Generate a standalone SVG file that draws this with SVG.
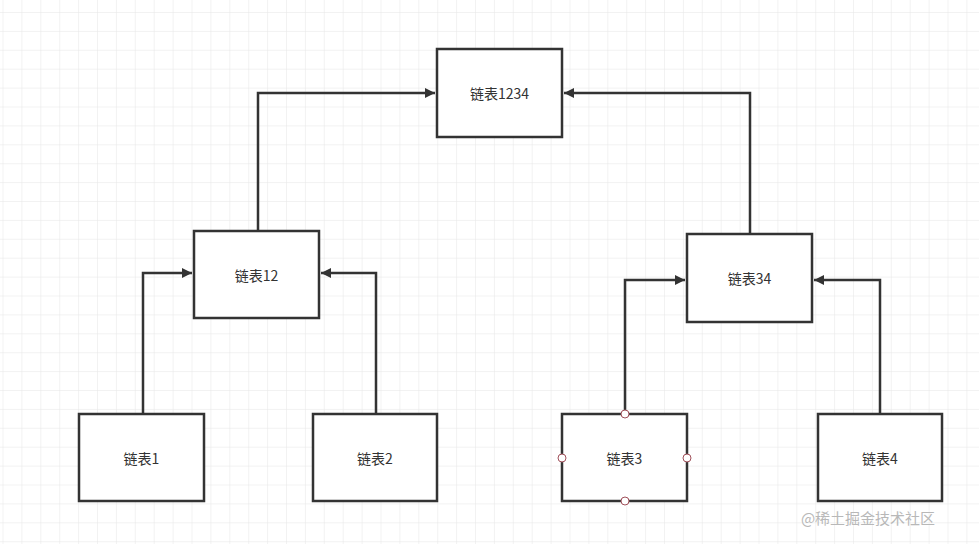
<svg xmlns="http://www.w3.org/2000/svg" width="979" height="544" viewBox="0 0 979 544">
<style>
.n rect{fill:#fff;stroke:#333;stroke-width:2.5}
.n text{font-family:"Noto Sans CJK SC","Liberation Sans",sans-serif;font-size:14px;fill:#333;text-anchor:middle;dominant-baseline:central}
.c path{fill:none;stroke:#333;stroke-width:2.5;marker-end:url(#a)}
.h{fill:#fff;stroke:#a0505a;stroke-width:1}
</style>
<defs>
<pattern id="g" x="2.5" y="12" width="18.9" height="18.9" patternUnits="userSpaceOnUse">
<path d="M0 0H18.9M0 0V18.9" fill="none" stroke="#e6e6e6" stroke-width="1"/>
</pattern>
<marker id="a" viewBox="0 0 10 10" refX="10" refY="5" markerWidth="14" markerHeight="10" orient="auto" markerUnits="userSpaceOnUse"><path d="M0 0L10 5L0 10Z" fill="#333"/></marker>
</defs>
<rect width="979" height="544" fill="#fff"/>
<rect width="979" height="544" fill="url(#g)"/>
<g class="c">
<path d="M258 231V93H435"/>
<path d="M750 234V93H564"/>
<path d="M143 414V273H192"/>
<path d="M376 414V273H321"/>
<path d="M625 414V280H685"/>
<path d="M880 414V280H814"/>
</g>
<g id="n1234" class="n"><rect x="437" y="49" width="125" height="88"/><text x="499.5" y="93">链表1234</text></g>
<g id="n12" class="n"><rect x="194" y="231" width="125" height="87"/><text x="256.5" y="274.5">链表12</text></g>
<g id="n34" class="n"><rect x="687" y="234" width="125" height="88"/><text x="749.5" y="278">链表34</text></g>
<g id="n1" class="n"><rect x="79" y="414" width="125" height="87"/><text x="141.5" y="457.5">链表1</text></g>
<g id="n2" class="n"><rect x="313" y="414" width="124" height="87"/><text x="375" y="457.5">链表2</text></g>
<g id="n3" class="n"><rect x="562" y="414" width="125" height="87"/><text x="624.5" y="457.5">链表3</text>
<circle class="h" cx="625" cy="414" r="4"/><circle class="h" cx="625" cy="501" r="4"/><circle class="h" cx="562" cy="458" r="4"/><circle class="h" cx="687" cy="458" r="4"/></g>
<g id="n4" class="n"><rect x="818" y="414" width="124" height="87"/><text x="880" y="457.5">链表4</text></g>
<text x="868" y="517" font-family="Noto Sans CJK SC,sans-serif" font-size="15" fill="#b8b8b8" text-anchor="middle" dominant-baseline="central">@稀土掘金技术社区</text>
</svg>
